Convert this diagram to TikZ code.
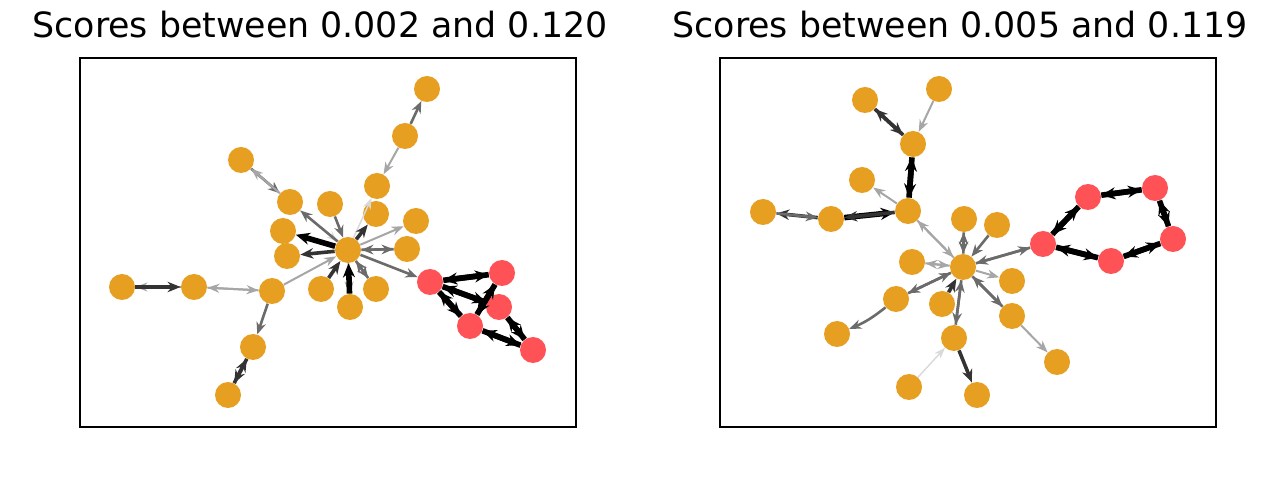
\documentclass[tikz,border=0pt]{standalone}
\usepackage{fontspec}
\setmainfont{DejaVu Sans}
\usetikzlibrary{arrows.meta}
\definecolor{nodeor}{HTML}{E69F20}
\definecolor{nodered}{HTML}{FF5257}
\tikzset{
  nd/.style={circle,fill=nodeor,minimum size=13pt,inner sep=0pt},
  rd/.style={circle,fill=nodered,minimum size=13pt,inner sep=0pt},
  frame/.style={draw=black,line width=0.6pt},
  ttl/.style={anchor=base,font=\fontsize{17.4pt}{20pt}\selectfont},
  e0/.style={draw=black!15,line width=0.7pt,-{Stealth[length=5.5pt,width=4pt]}},
  e1/.style={draw=black!35,line width=1pt,-{Stealth[length=6pt,width=4.5pt]}},
  e2/.style={draw=black!58,line width=1.3pt,-{Stealth[length=6pt,width=4.8pt]}},
  e3/.style={draw=black!80,line width=1.8pt,-{Stealth[length=6.5pt,width=5.2pt]}},
  e4/.style={draw=black,line width=2.8pt,-{Stealth[length=7pt,width=6pt]}},
}
\begin{document}
\begin{tikzpicture}[x=0.5pt,y=-0.5pt]
\useasboundingbox (0,0) rectangle (1280,480);
\fill[white] (0,0) rectangle (1280,480);
% titles
\node[ttl] (t1) at (320,38) {Scores between 0.002 and 0.120};
\node[ttl] (t2) at (960,38) {Scores between 0.005 and 0.119};
% frames
\draw[frame] (80,58) rectangle (576,427);
\draw[frame] (720,58) rectangle (1216,427);
% ---------- left panel nodes
\node[nd] (a1) at (427,89) {};
\node[nd] (a2) at (405,136) {};
\node[nd] (a3) at (241,160) {};
\node[nd] (a4) at (377,186) {};
\node[nd] (a5) at (290,202) {};
\node[nd] (a6) at (330,204) {};
\node[nd] (a7) at (376,214) {};
\node[nd] (a8) at (416,221) {};
\node[nd] (a9) at (283,231) {};
\node[nd] (a10) at (348,250) {};
\node[nd] (a11) at (287,256) {};
\node[nd] (a12) at (407,249) {};
\node[nd] (a13) at (122,287) {};
\node[nd] (a14) at (194,287) {};
\node[nd] (a15) at (272,291) {};
\node[nd] (a16) at (321,289) {};
\node[nd] (a17) at (376,289) {};
\node[nd] (a18) at (350,307) {};
\node[nd] (a19) at (253,347) {};
\node[nd] (a20) at (228,395) {};
\node[rd] (r1) at (430,282) {};
\node[rd] (r2) at (502,273) {};
\node[rd] (r3) at (499,307) {};
\node[rd] (r4) at (470,326) {};
\node[rd] (r5) at (533,350) {};
% left edges
\draw[e2] (a2) -- (a1);
\draw[e1] (a2) -- (a4);
\draw[e2] (a3) -- (a5);
\draw[e1] (a5) -- (a3);
\draw[e0] (a5) -- (a10);
\draw[e2] (a10) -- (a5);
\draw[e2] (a6) -- (a10);
\draw[e0] (a10) -- (a4);
\draw[e4] (a10) -- (a9);
\draw[e3] (a10) -- (a11);
\draw[e3] (a10) -- (a7);
\draw[e1] (a10) -- (a8);
\draw[e2] (a10) -- (a12);
\draw[e2] (a12) -- (a10);
\draw[e1] (a15) -- (a10);
\draw[e3] (a16) -- (a10);
\draw[e1] (a10) -- (a18);
\draw[e4] (a18) -- (a10);
\draw[e2] (a10) -- (a17);
\draw[e2] (a17) -- (a10);
\draw[e2] (a10) -- (r1);
\draw[e1] (a14) -- (a15);
\draw[e1] (a15) -- (a14);
\draw[e1] (a14) -- (a13);
\draw[e3] (a13) -- (a14);
\draw[e2] (a15) -- (a19);
\draw[e3] (a19) -- (a20);
\draw[e3] (a20) -- (a19);
\draw[e4] (r1) -- (r2);
\draw[e4] (r2) -- (r1);
\draw[e4] (r1) -- (r3);
\draw[e4] (r3) -- (r1);
\draw[e4] (r1) -- (r4);
\draw[e4] (r4) -- (r1);
\draw[e4] (r2) -- (r4);
\draw[e4] (r4) -- (r2);
\draw[e4] (r3) -- (r5);
\draw[e4] (r5) -- (r3);
\draw[e4] (r4) -- (r5);
\draw[e4] (r5) -- (r4);
% ---------- right panel nodes
\node[nd] (b1) at (865,100) {};
\node[nd] (b2) at (939,89) {};
\node[nd] (b3) at (913,144) {};
\node[nd] (b4) at (862,180) {};
\node[nd] (b5) at (763,212) {};
\node[nd] (b6) at (831,219) {};
\node[nd] (b7) at (908,211) {};
\node[nd] (b8) at (964,219) {};
\node[nd] (b9) at (997,225) {};
\node[nd] (b10) at (912,262) {};
\node[nd] (b11) at (963,267) {};
\node[nd] (b12) at (1012,281) {};
\node[nd] (b13) at (896,299) {};
\node[nd] (b14) at (942,304) {};
\node[nd] (b15) at (1012,316) {};
\node[nd] (b16) at (954,338) {};
\node[nd] (b17) at (1057,362) {};
\node[nd] (b18) at (909,387) {};
\node[nd] (b19) at (977,395) {};
\node[nd] (b20) at (837,334) {};
\node[rd] (s1) at (1043,244) {};
\node[rd] (s2) at (1088,197) {};
\node[rd] (s3) at (1155,188) {};
\node[rd] (s4) at (1173,239) {};
\node[rd] (s5) at (1111,261) {};
% right edges
\draw[e3] (b1) -- (b3);
\draw[e3] (b3) -- (b1);
\draw[e1] (b2) -- (b3);
\draw[e4] (b3) -- (b7);
\draw[e4] (b7) -- (b3);
\draw[e1] (b7) -- (b4);
\draw[e4] (b6) -- (b7);
\draw[e3] (b7) -- (b6);
\draw[e3] (b6) -- (b5);
\draw[e2] (b5) -- (b6);
\draw[e1] (b7) -- (b11);
\draw[e1] (b11) -- (b7);
\draw[e2] (b8) -- (b11);
\draw[e2] (b11) -- (b8);
\draw[e2] (b9) -- (b11);
\draw[e1] (b10) -- (b11);
\draw[e1] (b11) -- (b10);
\draw[e2] (s1) -- (b11);
\draw[e2] (b11) -- (s1);
\draw[e1] (b11) -- (b12);
\draw[e2] (b11) -- (b13);
\draw[e2] (b13) -- (b11);
\draw[e3] (b14) -- (b11);
\draw[e2] (b16) -- (b11);
\draw[e2] (b11) -- (b16);
\draw[e2] (b15) -- (b11);
\draw[e2] (b11) -- (b15);
\draw[e1] (b15) -- (b17);
\draw[e0] (b18) -- (b16);
\draw[e3] (b16) -- (b19);
\draw[e2] (b13) to[bend left=8] (b20);
\draw[e4] (s1) -- (s2);
\draw[e4] (s2) -- (s1);
\draw[e4] (s2) -- (s3);
\draw[e4] (s3) -- (s2);
\draw[e4] (s3) -- (s4);
\draw[e4] (s4) -- (s3);
\draw[e4] (s4) -- (s5);
\draw[e4] (s5) -- (s4);
\draw[e4] (s5) -- (s1);
\draw[e4] (s1) -- (s5);
\end{tikzpicture}
\end{document}
